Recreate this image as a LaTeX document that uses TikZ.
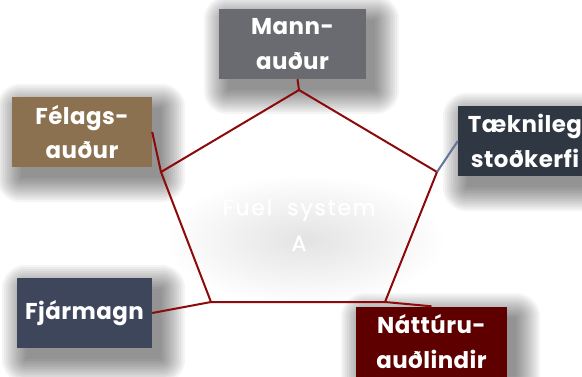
\documentclass[tikz,border=0pt]{standalone}
\usepackage{fontspec}
\newfontfamily\popfont{Poppins}[LetterSpace=2]
\newfontfamily\popwide{Poppins}[LetterSpace=8, FakeBold=1.3]
\usetikzlibrary{calc}
\pgfdeclarelayer{bg}
\pgfsetlayers{bg,main}
\definecolor{mannc}{RGB}{106,107,113}
\definecolor{felc}{RGB}{139,113,80}
\definecolor{tekc}{RGB}{46,55,66}
\definecolor{fjac}{RGB}{62,70,92}
\definecolor{natc}{RGB}{94,0,0}
\definecolor{linec}{RGB}{140,10,10}
\definecolor{bluec}{RGB}{100,115,150}
\tikzset{
  capbox/.style={draw=none, minimum height=70bp, inner sep=0pt, text=white,
    font=\popfont\bfseries\fontsize{23}{35}\selectfont, align=center},
  link/.style={draw=linec, line width=2bp},
  shadowlayer/.style={fill=black, fill opacity=0.04},
}
\newcommand\softshadow[1]{%
  \begin{pgfonlayer}{bg}
    \foreach \r in {24,22,...,0}{
      \fill[shadowlayer, rounded corners=\r bp]
        ($(#1.north west)+(9-\r,11-\r)$) rectangle ($(#1.south east)+(9+\r,11+\r)$);
    }
  \end{pgfonlayer}}
\begin{document}
\begin{tikzpicture}[x=1bp,y=-1bp]
\useasboundingbox (0,0) rectangle (582,376);
\begin{pgfonlayer}{bg}
\fill[white] (0,0) rectangle (582,376);
% soft grey glow in the centre
\shade[inner color=black!11, outer color=white] (305,240) ellipse (140 and 65);
\end{pgfonlayer}
% pentagon corners
\coordinate (p1) at (299,90);
\coordinate (p2) at (437,172);
\coordinate (p3) at (385,302);
\coordinate (p4) at (211,302);
\coordinate (p5) at (161,172);
% boxes
\node[capbox, fill=mannc, minimum width=147bp] (mann) at (292.5,44) {Mann-\\auður};
\node[capbox, fill=felc, minimum width=140bp] (fel) at (82,132) {Félags-\\auður};
\node[capbox, fill=tekc, minimum width=134bp] (tek) at (525,141) {Tæknileg\\stoðkerfi};
\node[capbox, fill=fjac, minimum width=135bp] (fja) at (84.5,313) {Fjármagn};
\node[capbox, fill=natc, minimum width=151bp] (nat) at (431.5,341.5) {Náttúru-\\auðlindir};
\softshadow{mann}
\softshadow{fel}
\softshadow{tek}
\softshadow{fja}
\softshadow{nat}
% pentagon
\draw[link, line join=miter] (p1) -- (p2) -- (p3) -- (p4) -- (p5) -- cycle;
% connectors
\draw[link] ($(mann.south)+(5,0)$) -- (p1);
\draw[draw=bluec, line width=2bp] (tek.west) -- (p2);
\draw[link] (p3) -- (nat.north);
\draw[link] (p4) -- (fja.east);
\draw[link] (p5) -- (fel.east);
% centre label
\node[text=white, font=\popwide\fontsize{22}{36}\selectfont, align=center] (fuel) at (299,225) {Fuel\ \ system\\A};
\end{tikzpicture}
\end{document}
